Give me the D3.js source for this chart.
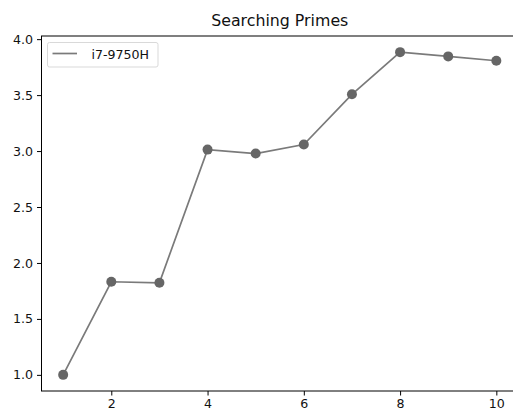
<!DOCTYPE html>
<html>
<head>
<meta charset="utf-8">
<script src="https://cdn.jsdelivr.net/npm/d3@7"></script>
<style>
  html, body { margin: 0; padding: 0; background: #fff; }
  svg { display: block; font-family: "DejaVu Sans", sans-serif; }
</style>
</head>
<body>
<svg id="chart" width="513" height="411"></svg>
<script>
// Thread counts and measured speed-up for the prime search benchmark
const threads = [1, 2, 3, 4, 5, 6, 7, 8, 9, 10];
const speedup = [1.0, 1.832, 1.823, 3.013, 2.978, 3.058, 3.507, 3.884, 3.846, 3.807];
const xTicks = [2, 4, 6, 8, 10];
const yTicks = [1.0, 1.5, 2.0, 2.5, 3.0, 3.5, 4.0];
const seriesName = "i7-9750H";
const chartTitle = "Searching Primes";

const svg = d3.select("#chart");
const plotLeft = 41.5, plotTop = 36, plotBottom = 391, plotRight = 518;
const tickFont = 12.6;

// axis limits padded 5% of the data span, like the usual plotting default
const xPad = (d3.max(threads) - d3.min(threads)) * 0.05;
const yPad = (d3.max(speedup) - d3.min(speedup)) * 0.05;
const x = d3.scaleLinear()
  .domain([d3.min(threads) - xPad, d3.max(threads) + xPad])
  .range([plotLeft, plotRight]);
const y = d3.scaleLinear()
  .domain([d3.min(speedup) - yPad, d3.max(speedup) + yPad])
  .range([plotBottom, plotTop]);

// frame
svg.append("rect")
  .attr("x", plotLeft).attr("y", plotTop)
  .attr("width", plotRight - plotLeft).attr("height", plotBottom - plotTop)
  .attr("fill", "none").attr("stroke", "#000").attr("stroke-width", 1);

// axes
const xAxis = svg.append("g")
  .attr("transform", `translate(0,${plotBottom})`)
  .call(d3.axisBottom(x).tickValues(xTicks).tickFormat(d3.format("d")).tickSize(4.5).tickPadding(3.5));
const yAxis = svg.append("g")
  .attr("transform", `translate(${plotLeft},0)`)
  .call(d3.axisLeft(y).tickValues(yTicks).tickFormat(d3.format(".1f")).tickSize(4.5).tickPadding(4));
[xAxis, yAxis].forEach(g => {
  g.select(".domain").remove();
  g.selectAll("text").attr("font-size", tickFont).attr("fill", "#111")
    .attr("font-family", "DejaVu Sans, sans-serif");
  g.selectAll("line").attr("stroke", "#000");
});

// series line and markers
const line = d3.line().x((d, i) => x(threads[i])).y(d => y(d));
svg.append("path")
  .datum(speedup)
  .attr("d", line)
  .attr("fill", "none")
  .attr("stroke", "#7a7a7a")
  .attr("stroke-width", 1.7);
svg.append("g").selectAll("circle")
  .data(speedup)
  .join("circle")
  .attr("cx", (d, i) => x(threads[i]))
  .attr("cy", d => y(d))
  .attr("r", 5)
  .attr("fill", "#666");

// title
svg.append("text")
  .attr("x", (plotLeft + plotRight) / 2)
  .attr("y", 26)
  .attr("text-anchor", "middle")
  .attr("font-size", 15.8)
  .attr("fill", "#111")
  .text(chartTitle);

// legend
const lg = svg.append("g");
lg.append("rect")
  .attr("x", 47.5).attr("y", 42.5).attr("width", 110.5).attr("height", 24.5)
  .attr("rx", 2).attr("fill", "#fff").attr("fill-opacity", 0.8)
  .attr("stroke", "#d9d9d9").attr("stroke-width", 1);
lg.append("line")
  .attr("x1", 52.5).attr("x2", 77).attr("y1", 53.5).attr("y2", 53.5)
  .attr("stroke", "#7a7a7a").attr("stroke-width", 1.7);
lg.append("text")
  .attr("x", 91.5).attr("y", 58.5)
  .attr("font-size", tickFont).attr("fill", "#111")
  .text(seriesName);
</script>
</body>
</html>
